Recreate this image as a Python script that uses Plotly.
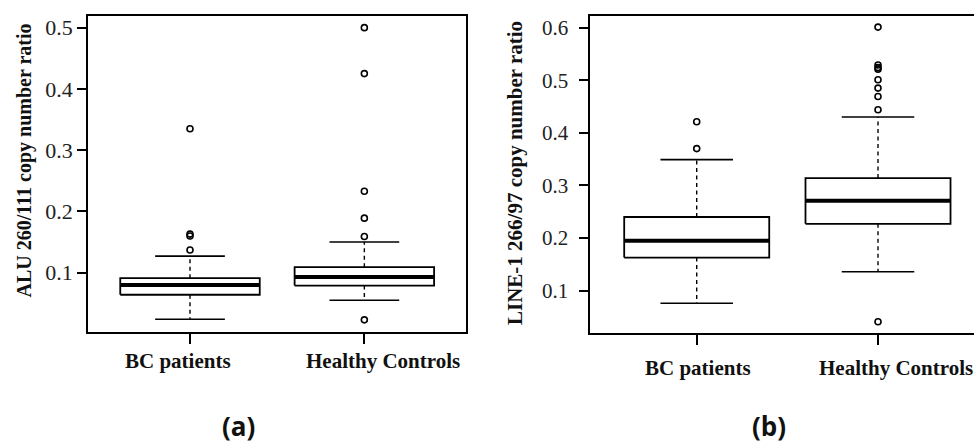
import plotly.graph_objects as go

W, H = 974, 446

# ---------------- data ----------------
groups = ["BC patients", "Healthy Controls"]

alu_lower = [0.024, 0.055]
alu_q1 = [0.064, 0.079]
alu_median = [0.080, 0.093]
alu_q3 = [0.091, 0.109]
alu_upper = [0.127, 0.150]
alu_outliers_bc = [0.137, 0.160, 0.163, 0.335]
alu_outliers_hc = [0.023, 0.159, 0.189, 0.233, 0.425, 0.500]

line1_lower = [0.076, 0.136]
line1_q1 = [0.163, 0.227]
line1_median = [0.195, 0.271]
line1_q3 = [0.240, 0.314]
line1_upper = [0.349, 0.430]
line1_outliers_bc = [0.370, 0.421]
line1_outliers_hc = [0.041, 0.444, 0.469, 0.485, 0.501, 0.521, 0.524, 0.529, 0.601]

alu_ticks = [0.1, 0.2, 0.3, 0.4, 0.5]
line1_ticks = [0.1, 0.2, 0.3, 0.4, 0.5, 0.6]

alu_title = "ALU 260/111 copy number ratio"
line1_title = "LINE-1 266/97 copy number ratio"
panel_labels = ["(a)", "(b)"]

# ---------------- figure ----------------
fig = go.Figure()

HALF = 0.4      # half box width (boxwex 0.8)
STAPLE = 0.2    # half staple width


def add_boxes(xref, yref, lower, q1, med, q3, upper, outs):
    for i in range(len(groups)):
        c = i + 1
        # box
        fig.add_trace(go.Scatter(
            x=[c - HALF, c + HALF, c + HALF, c - HALF, c - HALF],
            y=[q1[i], q1[i], q3[i], q3[i], q1[i]],
            mode="lines", line=dict(color="black", width=1.8),
            xaxis=xref, yaxis=yref, hoverinfo="skip", showlegend=False))
        # median
        fig.add_trace(go.Scatter(
            x=[c - HALF, c + HALF], y=[med[i], med[i]],
            mode="lines", line=dict(color="black", width=4),
            xaxis=xref, yaxis=yref, hoverinfo="skip", showlegend=False))
        # whiskers (dashed)
        for a, b in ((q3[i], upper[i]), (q1[i], lower[i])):
            fig.add_trace(go.Scatter(
                x=[c, c], y=[a, b], mode="lines",
                line=dict(color="black", width=1.4, dash="4px,3.5px"),
                xaxis=xref, yaxis=yref, hoverinfo="skip", showlegend=False))
        # staples
        for v in (upper[i], lower[i]):
            fig.add_trace(go.Scatter(
                x=[c - STAPLE, c + STAPLE], y=[v, v], mode="lines",
                line=dict(color="black", width=1.6),
                xaxis=xref, yaxis=yref, hoverinfo="skip", showlegend=False))
        # outliers
        fig.add_trace(go.Scatter(
            x=[c] * len(outs[i]), y=outs[i], mode="markers",
            marker=dict(symbol="circle-open", size=6, color="black",
                        line=dict(width=1.6, color="black")),
            xaxis=xref, yaxis=yref, hoverinfo="skip", showlegend=False))


add_boxes("x", "y", alu_lower, alu_q1, alu_median, alu_q3, alu_upper,
          [alu_outliers_bc, alu_outliers_hc])
add_boxes("x2", "y2", line1_lower, line1_q1, line1_median, line1_q3, line1_upper,
          [line1_outliers_bc, line1_outliers_hc])

SERIF = "Liberation Serif"

common_x = dict(tickvals=[1, 2], ticktext=["", ""], ticks="outside", ticklen=10,
                tickwidth=1.5, tickcolor="black", showline=True, linecolor="black",
                linewidth=1.5, mirror=True, showgrid=False, zeroline=False,
                automargin=False, fixedrange=True)

fig.update_layout(
    width=W, height=H,
    margin=dict(l=0, r=0, t=0, b=0, autoexpand=False),
    paper_bgcolor="white", plot_bgcolor="white",
    showlegend=False,
    font=dict(family=SERIF, color="black"),
    xaxis=dict(domain=[88 / W, 466 / W], range=[0.415, 2.583], anchor="y", **common_x),
    yaxis=dict(domain=[1 - 332 / H, 1 - 16 / H], range=[0.0032, 0.519], anchor="x",
               tickvals=alu_ticks, ticktext=[f"{t:.1f}" for t in alu_ticks],
               ticks="outside", ticklen=9, tickwidth=1.5, tickcolor="black",
               tickfont=dict(family=SERIF, size=22, color="#222"),
               showline=True, linecolor="black", linewidth=1.5, mirror=True,
               showgrid=False, zeroline=False, automargin=False, fixedrange=True),
    xaxis2=dict(domain=[590.3 / W, 1.0], range=[0.413, 2.5295], anchor="y2", **common_x),
    yaxis2=dict(domain=[1 - 333.3 / H, 1 - 15.5 / H], range=[0.019, 0.623], anchor="x2",
                tickvals=line1_ticks, ticktext=[f"{t:.1f}" for t in line1_ticks],
                ticks="outside", ticklen=10, tickwidth=1.5, tickcolor="black",
                ticklabelstandoff=6,
                tickfont=dict(family=SERIF, size=21, color="#222"),
                showline=True, linecolor="black", linewidth=1.5, mirror=False,
                showgrid=False, zeroline=False, automargin=False, fixedrange=True),
)


def ann(text, px, py, size, bold=True, angle=0, family=SERIF, yanchor="middle"):
    fig.add_annotation(
        text=f"<b>{text}</b>" if bold else text,
        x=px / W, y=1 - py / H, xref="paper", yref="paper",
        xanchor="center", yanchor=yanchor, showarrow=False, textangle=angle,
        font=dict(family=family, size=size, color="#111"))


# axis titles
ann(alu_title, 23.5, 161, 20, angle=-90)
ann(line1_title, 515, 173, 21, angle=-90)

# category labels
ann(groups[0], 178, 361, 21)
ann(groups[1], 383, 361, 21)
ann(groups[0], 698, 368, 21)
ann(groups[1], 895.5, 368, 21)

# panel labels
SANS = "Open Sans"
ann(panel_labels[0], 238, 446, 26, family=SANS, yanchor="bottom")
ann(panel_labels[1], 769, 446, 26, family=SANS, yanchor="bottom")

fig.write_html("out.html")
